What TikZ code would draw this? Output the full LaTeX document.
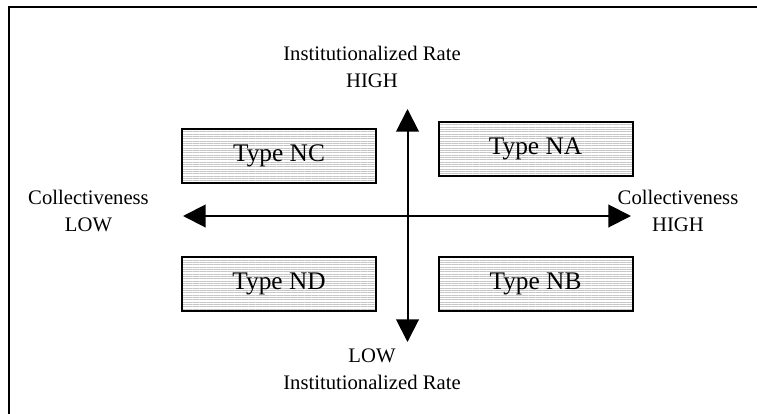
\documentclass[tikz,border=0pt]{standalone}
\usepackage{fontspec}
\setmainfont{Liberation Serif}
\usetikzlibrary{arrows.meta,patterns.meta}

\begin{document}
\begin{tikzpicture}[x=0.75pt,y=-0.75pt,
                    type node/.style={draw,line width=1.5pt,minimum width=145.5pt,minimum height=40.5pt,
                        pattern={Lines[angle=0,distance=1.75pt,line width=0.5pt]},pattern color=gray!45,
                        font=\fontsize{19}{22}\selectfont},
                    label node/.style={align=center,font=\fontsize{15.5}{20.25}\selectfont},
                    axis/.style={line width=1.5pt,{Triangle[length=17pt,width=17pt]}-{Triangle[length=17pt,width=17pt]}}]
	\useasboundingbox (0,0) rectangle (757,414);
	\draw[line width=1.5pt] (9,414) -- (9,7) -- (757,7);

	\node[type node] (NC) at (279,156) {Type NC};
	\node[type node] (NA) at (535.5,149) {Type NA};
	\node[type node] (ND) at (279,284) {Type ND};
	\node[type node] (NB) at (535.5,284) {Type NB};

	\coordinate (irhigh) at (407.5,109);
	\coordinate (irlow) at (407.5,342);
	\coordinate (clow) at (183,216);
	\coordinate (chigh) at (631,216);
	\draw[axis] (irlow) -- (irhigh);
	\draw[axis] (clow) -- (chigh);

	\node[label node] (toplabel) at (372,66.5) {Institutionalized Rate\\HIGH};
	\node[label node] (bottomlabel) at (372,369.5) {LOW\\Institutionalized Rate};
	\node[label node] (leftlabel) at (88.5,210.5) {Collectiveness\\LOW};
	\node[label node] (rightlabel) at (678,210.5) {Collectiveness\\HIGH};
\end{tikzpicture}
\end{document}
